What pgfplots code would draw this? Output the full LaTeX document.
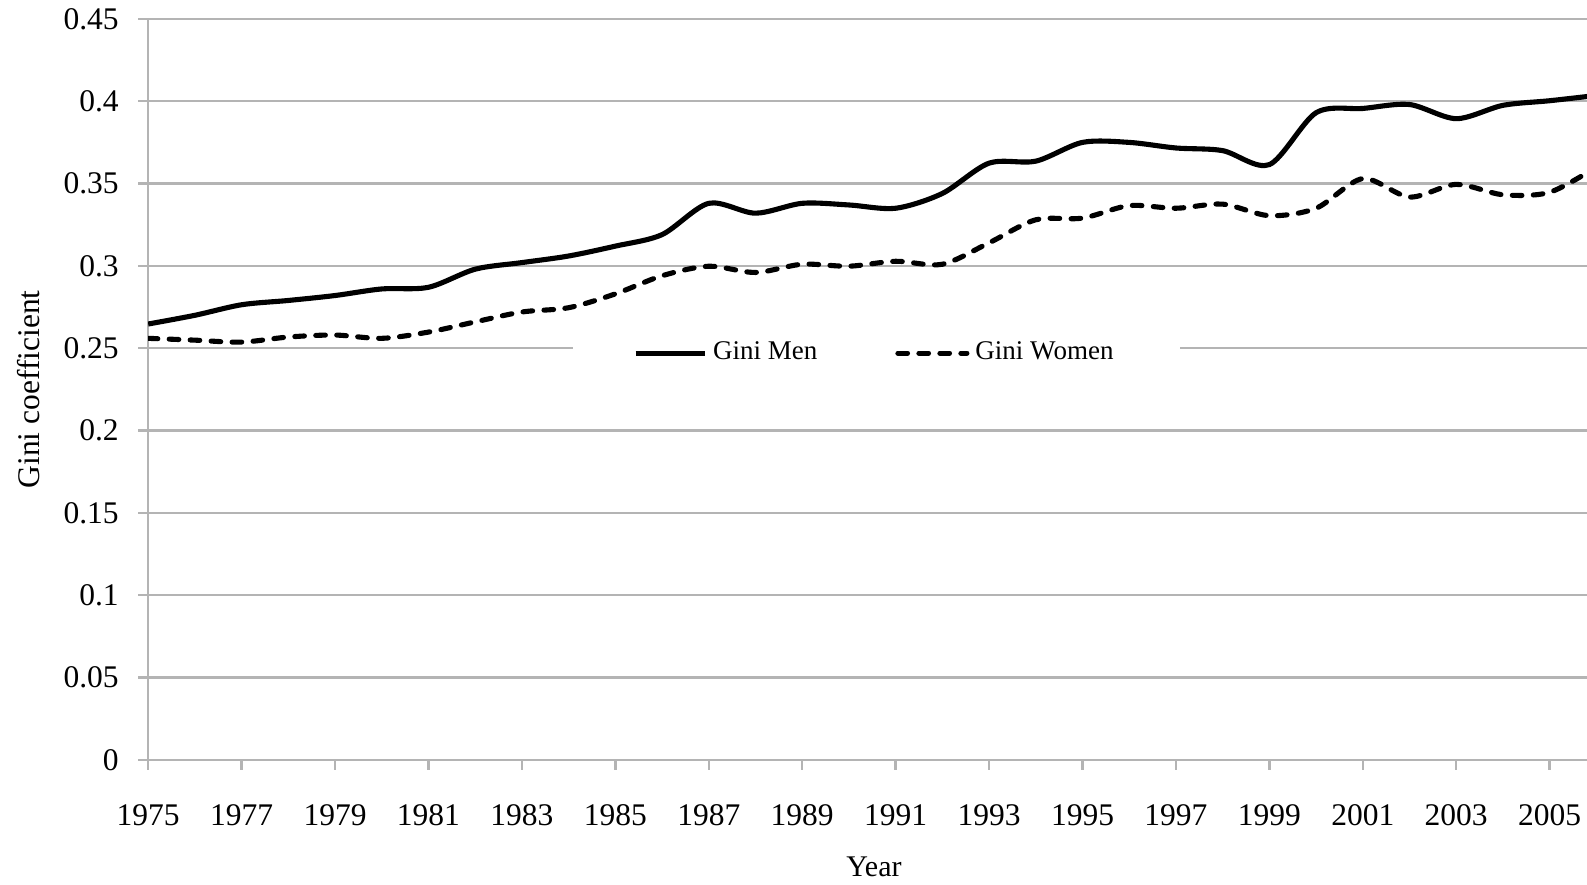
\documentclass[border=0pt]{standalone}
\usepackage{fontspec}
\setmainfont{Liberation Serif}
\usepackage{pgfplots}
\pgfplotsset{compat=1.18}
\usepackage{pgfplotstable}
\usetikzlibrary{calc}
\definecolor{gridgray}{RGB}{180,180,180}

% Gini coefficients
\pgfplotstableread{
year men women
1975 0.2647 0.2560
1976 0.2700 0.2549
1977 0.2764 0.2537
1978 0.2790 0.2568
1979 0.2820 0.2580
1980 0.2860 0.2560
1981 0.2870 0.2598
1982 0.2980 0.2660
1983 0.3020 0.2720
1984 0.3060 0.2746
1985 0.3120 0.2830
1986 0.3190 0.2940
1987 0.3380 0.2998
1988 0.3320 0.2960
1989 0.3380 0.3010
1990 0.3370 0.2998
1991 0.3350 0.3028
1992 0.3440 0.3010
1993 0.3624 0.3140
1994 0.3636 0.3280
1995 0.3750 0.3290
1996 0.3750 0.3366
1997 0.3716 0.3350
1998 0.3700 0.3375
1999 0.3615 0.3305
2000 0.3930 0.3350
2001 0.3956 0.3530
2002 0.3980 0.3418
2003 0.3894 0.3495
2004 0.3975 0.3432
2005 0.4003 0.3447
2006 0.4035 0.3600
}\gini

\begin{document}
\begin{tikzpicture}
\begin{axis}[
    name=ax,
    scale only axis,
    width=479.6pt, height=247pt,
    xmin=1975, xmax=2005.8,
    ymin=0, ymax=0.45,
    axis lines=left,
    axis line style={draw=gridgray, line width=0.8pt, -},
    tick style={draw=gridgray, line width=0.8pt},
    tick align=outside,
    major tick length=3.3pt,
    xtick={1975,1977,...,2005},
    ytick={0,0.05,...,0.451},
    yticklabels={0,0.05,0.1,0.15,0.2,0.25,0.3,0.35,0.4,0.45},
    ymajorgrids,
    grid style={gridgray, line width=0.8pt},
    /pgf/number format/assume math mode=true,
    xticklabel style={/pgf/number format/set thousands separator={}, font=\fontsize{10.5}{12}\selectfont, yshift=-8pt},
    yticklabel style={font=\fontsize{10.5}{12}\selectfont, xshift=-3pt},
    xlabel={Year},
    ylabel={Gini coefficient},
    xlabel style={font=\fontsize{10}{12}\selectfont, at={(axis description cs:0,0)}, anchor=center, xshift=241.9pt, yshift=-35.7pt},
    ylabel style={font=\fontsize{10.5}{12}\selectfont, at={(axis description cs:0,0.5)}, anchor=center, yshift=40pt},
    legend columns=2,
    legend style={at={(rel axis cs:0.5004,0.5547)}, anchor=center, xshift=2.7pt, yshift=-1.4pt, draw=none, fill=white,
        inner xsep=20pt, inner ysep=3pt, font=\fontsize{9}{10}\selectfont,
        /tikz/every even column/.append style={column sep=24pt}},
    legend image code/.code={\draw[#1] (0pt,0pt) -- (23pt,0pt);},
]
\addplot[black, line width=1.7pt, smooth, tension=0.5] table[x=year, y=men] {\gini};
\addlegendentry{Gini Men}
\addplot[black, line width=1.7pt, smooth, tension=0.5, line cap=round, dash pattern=on 3.2pt off 3.8pt] table[x=year, y=women] {\gini};
\addlegendentry{Gini Women}
\end{axis}
\pgfresetboundingbox
\path[use as bounding box] ($(ax.south west)+(-49.4pt,-41.7pt)$) rectangle ($(ax.north east)+(0,6.3pt)$);
\end{tikzpicture}
\end{document}
